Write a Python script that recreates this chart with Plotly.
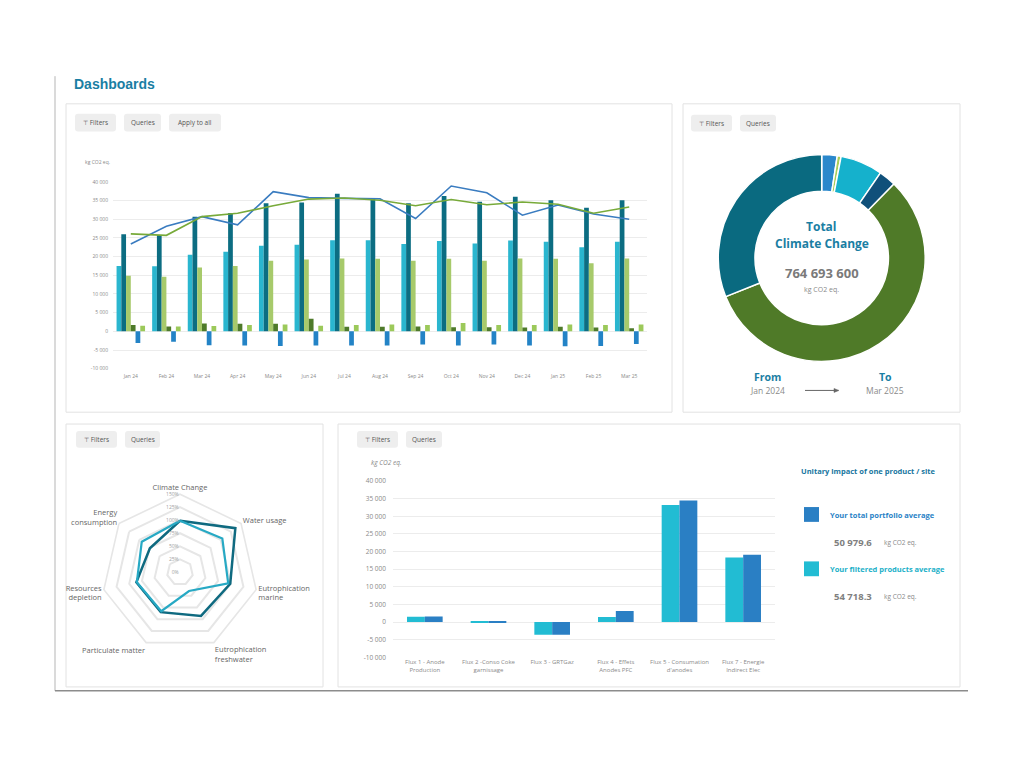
import plotly.graph_objects as go

# ---------------- data ----------------
months = ["Jan 24", "Feb 24", "Mar 24", "Apr 24", "May 24", "Jun 24", "Jul 24", "Aug 24",
          "Sep 24", "Oct 24", "Nov 24", "Dec 24", "Jan 25", "Feb 25", "Mar 25"]
m_cyan = [17500, 17400, 20500, 21300, 22900, 23200, 24400, 24400, 23400, 24200, 23500, 24300, 24000, 22500, 24000]
m_teal = [26000, 25800, 30700, 31700, 34300, 34500, 36800, 35600, 34300, 36200, 34700, 36000, 35100, 33100, 35100]
m_lgreen = [14900, 14600, 17100, 17500, 18900, 19200, 19500, 19400, 18900, 19400, 18900, 19500, 19400, 18200, 19500]
m_olive = [1700, 1300, 2100, 2000, 2000, 3400, 1200, 1200, 1300, 1100, 1100, 1000, 1200, 1000, 800]
m_blue = [-3100, -2800, -3700, -3800, -3900, -3800, -3800, -3800, -3500, -3800, -3500, -3800, -4000, -3900, -3400]
m_lgsmall = [1500, 1300, 1400, 1700, 1800, 1500, 1700, 1800, 1700, 2200, 1700, 1700, 1800, 1700, 1800]
line_blue = [23400, 28100, 30700, 28500, 37400, 35800, 35600, 35500, 30200, 38900, 37100, 31100, 33800, 31400, 30000]
line_green = [26100, 25700, 30700, 31600, 33600, 35400, 35700, 35100, 33600, 35300, 33900, 34600, 34000, 31600, 33300]
y_ticks = [-10000, -5000, 0, 5000, 10000, 15000, 20000, 25000, 30000, 35000, 40000]

donut_labels = ["Source 1", "Source 2", "Source 3", "Source 4", "Source 5", "Source 6"]
donut_values = [18400000, 4600000, 50500000, 20600000, 432800000, 237800000]
donut_total = "764 693 600"

radar_axes = ["Climate Change", "Water usage", "Eutrophication<br>marine", "Eutrophication<br>freshwater",
              "Particulate matter", "Resources<br>depletion", "Energy<br>consumption"]
radar_dark = [99, 136, 99, 93, 85, 86, 74]
radar_cyan = [99, 104, 95, 40, 83, 85, 94]
radar_ticks = [0, 25, 50, 75, 100, 125, 150]

flux_labels = ["Flux 1 - Anode<br>Production", "Flux 2 -Conso Coke<br>garnissage", "Flux 3 - GRTGaz",
               "Flux 4 - Effets<br>Anodes PFC", "Flux 5 - Consumation<br>d'anodes", "Flux 7 - Energie<br>Indirect Elec"]
flux_filtered = [1500, -300, -3600, 1400, 33200, 18300]
flux_portfolio = [1600, -300, -3600, 3100, 34500, 19100]
portfolio_avg = "50 979.6"
filtered_avg = "54 718.3"

# ---------------- helpers ----------------
W, H = 1024, 768
def X(px): return px / W
def Y(py): return 1 - py / H
def fmt(v): return f"{v:,}".replace(",", " ")

FONT = "Open Sans"
TEAL_T = "#1a7ea3"
GREY_T = "#7a7a7a"

fig = go.Figure()

# ---------------- top chart ----------------
bar_specs = [(m_cyan, "#2ab6cf"), (m_teal, "#0c6d82"), (m_lgreen, "#a7ca6b"),
             (m_olive, "#4e7a2a"), (m_blue, "#2383c6"), (m_lgsmall, "#9cc95a")]
for vals, col in bar_specs:
    fig.add_trace(go.Bar(x=months, y=vals, marker=dict(color=col, line=dict(width=0)),
                         xaxis="x", yaxis="y", showlegend=False))
fig.add_trace(go.Scatter(x=months, y=line_blue, mode="lines", line=dict(color="#3a7cc0", width=1.6),
                         xaxis="x", yaxis="y", showlegend=False))
fig.add_trace(go.Scatter(x=months, y=line_green, mode="lines", line=dict(color="#78aa3a", width=1.6),
                         xaxis="x", yaxis="y", showlegend=False))

# ---------------- donut ----------------
cx, cy, R = 821.7, 256, 104.7
fig.add_trace(go.Pie(labels=donut_labels, values=donut_values, hole=0.645, sort=False,
                     direction="clockwise", rotation=0, textinfo="none", showlegend=False,
                     marker=dict(colors=["#2b88cc", "#a9cd57", "#15b1cc", "#10507a", "#4f7a28", "#0a6a80"],
                                 line=dict(color="white", width=1.5)),
                     domain=dict(x=[X(cx - R), X(cx + R)], y=[Y(cy + R), Y(cy - R)])))

# ---------------- radar ----------------
rcx, rcy, rR = 180, 574, 79
fig.add_trace(go.Scatterpolar(r=radar_dark + radar_dark[:1], theta=radar_axes + radar_axes[:1],
                              mode="lines", line=dict(color="#0f6a80", width=2.5), showlegend=False))
fig.add_trace(go.Scatterpolar(r=radar_cyan + radar_cyan[:1], theta=radar_axes + radar_axes[:1],
                              mode="lines", line=dict(color="#27a9c4", width=2.2), showlegend=False))

# ---------------- bottom bar chart ----------------
fig.add_trace(go.Bar(x=flux_labels, y=flux_filtered, width=0.28, offset=-0.28,
                     marker=dict(color="#22bcd3", line=dict(width=0)),
                     xaxis="x2", yaxis="y2", showlegend=False))
fig.add_trace(go.Bar(x=flux_labels, y=flux_portfolio, width=0.28, offset=0,
                     marker=dict(color="#2a7fc4", line=dict(width=0)),
                     xaxis="x2", yaxis="y2", showlegend=False))

# ---------------- layout ----------------
tickfont_small = dict(family=FONT, size=5, color="#8a8a8a")
fig.update_layout(
    width=W, height=H, margin=dict(l=0, r=0, t=0, b=0),
    paper_bgcolor="white", plot_bgcolor="white",
    font=dict(family=FONT, color=GREY_T),
    barmode="group", bargap=0.2, bargroupgap=0,
    xaxis=dict(domain=[X(113), X(647)], anchor="y", showgrid=False, showline=False,
               ticks="", tickfont=tickfont_small, fixedrange=True, ticklabelstandoff=3),
    yaxis=dict(domain=[Y(368), Y(179)], anchor="x", range=[-10000, 40000],
               tickvals=y_ticks, ticktext=[fmt(v) for v in y_ticks],
               showgrid=True, gridcolor="#ececec", gridwidth=1, zeroline=False,
               tickfont=tickfont_small, ticklabelstandoff=4),
    xaxis2=dict(domain=[X(393), X(775)], anchor="y2", showgrid=False, showline=False,
                ticks="", tickfont=dict(family=FONT, size=6, color="#8a8a8a"), tickangle=0),
    yaxis2=dict(domain=[Y(660), Y(481.7)], anchor="x2", range=[-10000, 40000],
                tickvals=y_ticks, ticktext=[fmt(v) for v in y_ticks],
                showgrid=True, gridcolor="#ececec", gridwidth=1, zeroline=False,
                tickfont=dict(family=FONT, size=6.5, color="#8a8a8a"), ticklabelstandoff=6),
    polar=dict(
        domain=dict(x=[X(rcx - rR), X(rcx + rR)], y=[Y(rcy + rR), Y(rcy - rR)]),
        gridshape="linear", bgcolor="white",
        radialaxis=dict(range=[0, 150], tickvals=radar_ticks, ticktext=[f"{v}%" for v in radar_ticks],
                        angle=90, tickangle=90, side="counterclockwise", showline=False, ticks="",
                        gridcolor="#e6e6e6", gridwidth=1.6,
                        tickfont=dict(family=FONT, size=5, color="#a0a0a0")),
        angularaxis=dict(rotation=90, direction="clockwise", showgrid=False, ticks="",
                         showline=True, linecolor="#e6e6e6", linewidth=1.6,
                         tickfont=dict(family=FONT, size=7.5, color="#666666")),
    ),
)

# ---------------- frame, cards, buttons ----------------
shapes = []
def rrect(x0, y0, x1, y1, r, fill, line_col=None, lw=0):
    def P(px, py): return f"{X(px):.5f},{Y(py):.5f}"
    path = (f"M{P(x0 + r, y0)} L{P(x1 - r, y0)} Q{P(x1, y0)} {P(x1, y0 + r)} "
            f"L{P(x1, y1 - r)} Q{P(x1, y1)} {P(x1 - r, y1)} L{P(x0 + r, y1)} "
            f"Q{P(x0, y1)} {P(x0, y1 - r)} L{P(x0, y0 + r)} Q{P(x0, y0)} {P(x0 + r, y0)} Z")
    return dict(type="path", path=path, xref="paper", yref="paper", fillcolor=fill,
                line=dict(color=line_col or fill, width=lw), layer="below")

# page frame lines
shapes.append(dict(type="line", xref="paper", yref="paper", x0=X(55), x1=X(55), y0=Y(72), y1=Y(694),
                   line=dict(color="#b5b5b5", width=1)))
shapes.append(dict(type="line", xref="paper", yref="paper", x0=X(55), x1=X(968), y0=Y(694), y1=Y(694),
                   line=dict(color="#8c8c8c", width=1.5)))
# cards
for (x0, y0, x1, y1) in [(66, 100, 672, 412), (683, 100, 960, 412), (66, 424, 323, 690), (338, 424, 960, 690)]:
    shapes.append(dict(type="rect", xref="paper", yref="paper", x0=X(x0), x1=X(x1), y0=Y(y1), y1=Y(y0),
                       line=dict(color="#e2e2e2", width=1), fillcolor="rgba(0,0,0,0)", layer="below"))

annotations = []
buttons = [(75, 110, 116, 128, "Filters", True), (124, 110, 161, 128, "Queries", False),
           (169, 110, 221, 128, "Apply to all", False),
           (691, 111, 732, 128, "Filters", True), (740, 111, 776, 128, "Queries", False),
           (76, 431, 117, 448, "Filters", True), (125, 431, 160, 448, "Queries", False),
           (357, 431, 398, 448, "Filters", True), (406, 431, 442, 448, "Queries", False)]
for x0, y0, x1, y1, label, icon in buttons:
    shapes.append(rrect(x0, y0, x1, y1, 3, "#eeeeee"))
    txt = ("<span style='font-size:6px'>⊤</span> " + label) if icon else label
    annotations.append(dict(x=X((x0 + x1) / 2), y=Y((y0 + y1) / 2), xref="paper", yref="paper",
                            text=txt, showarrow=False, xanchor="center", yanchor="middle",
                            font=dict(family=FONT, size=6.5, color="#555555")))

# donut arrow
shapes.append(dict(type="line", xref="paper", yref="paper", x0=X(805), x1=X(836), y0=Y(390), y1=Y(390),
                   line=dict(color="#666666", width=1)))
shapes.append(dict(type="path", xref="paper", yref="paper",
                   path=f"M{X(834):.5f},{Y(388):.5f} L{X(839):.5f},{Y(390):.5f} L{X(834):.5f},{Y(392):.5f} Z",
                   fillcolor="#666666", line=dict(color="#666666", width=0.5)))
# legend squares
shapes.append(dict(type="rect", xref="paper", yref="paper", x0=X(804), x1=X(819), y0=Y(523), y1=Y(508),
                   fillcolor="#2a7fc4", line=dict(width=0)))
shapes.append(dict(type="rect", xref="paper", yref="paper", x0=X(804), x1=X(819), y0=Y(578), y1=Y(563),
                   fillcolor="#22bcd3", line=dict(width=0)))

def ann(x, y, text, size, color, bold=False, xanchor="center", italic=False, family=FONT):
    t = text
    if bold:
        t = f"<b>{t}</b>"
    if italic:
        t = f"<i>{t}</i>"
    annotations.append(dict(x=X(x), y=Y(y), xref="paper", yref="paper", text=t, showarrow=False,
                            xanchor=xanchor, yanchor="middle", font=dict(family=family, size=size, color=color)))

ann(72, 80, "Dashboards", 14, TEAL_T, bold=True, xanchor="left", family="Liberation Sans")
ann(83, 159, "kg CO2 eq.", 5, "#8a8a8a", xanchor="left")
# donut centre
ann(cx, 224, "Total", 12, TEAL_T, bold=True)
ann(cx, 241, "Climate Change", 12, TEAL_T, bold=True)
ann(cx, 271, donut_total, 13, "#7a7a7a", bold=True)
ann(cx, 288, "kg CO2 eq.", 7, "#8a8a8a")
ann(767, 376, "From", 10.5, TEAL_T, bold=True)
ann(767, 390, "Jan 2024", 8.5, "#8a8a8a")
ann(885, 376, "To", 10.5, TEAL_T, bold=True)
ann(885, 390, "Mar 2025", 8.5, "#8a8a8a")
# bottom chart
ann(369, 463, "kg CO2 eq.", 6.5, "#8a8a8a", xanchor="left", italic=True)
ann(868, 472, "Unitary impact of one product / site", 7.5, "#1776a0", bold=True)
ann(828, 516, "Your total portfolio average", 7.5, "#2a82c6", bold=True, xanchor="left")
ann(874, 544, portfolio_avg, 9.5, "#808080", bold=True, xanchor="right")
ann(882, 544, "kg CO2 eq.", 6.5, "#8a8a8a", xanchor="left")
ann(828, 571, "Your filtered products average", 7.5, "#1bb0c8", bold=True, xanchor="left")
ann(874, 599, filtered_avg, 9.5, "#808080", bold=True, xanchor="right")
ann(882, 599, "kg CO2 eq.", 6.5, "#8a8a8a", xanchor="left")

fig.update_layout(shapes=shapes, annotations=annotations)
fig.write_html("out.html", config={"displayModeBar": False})
